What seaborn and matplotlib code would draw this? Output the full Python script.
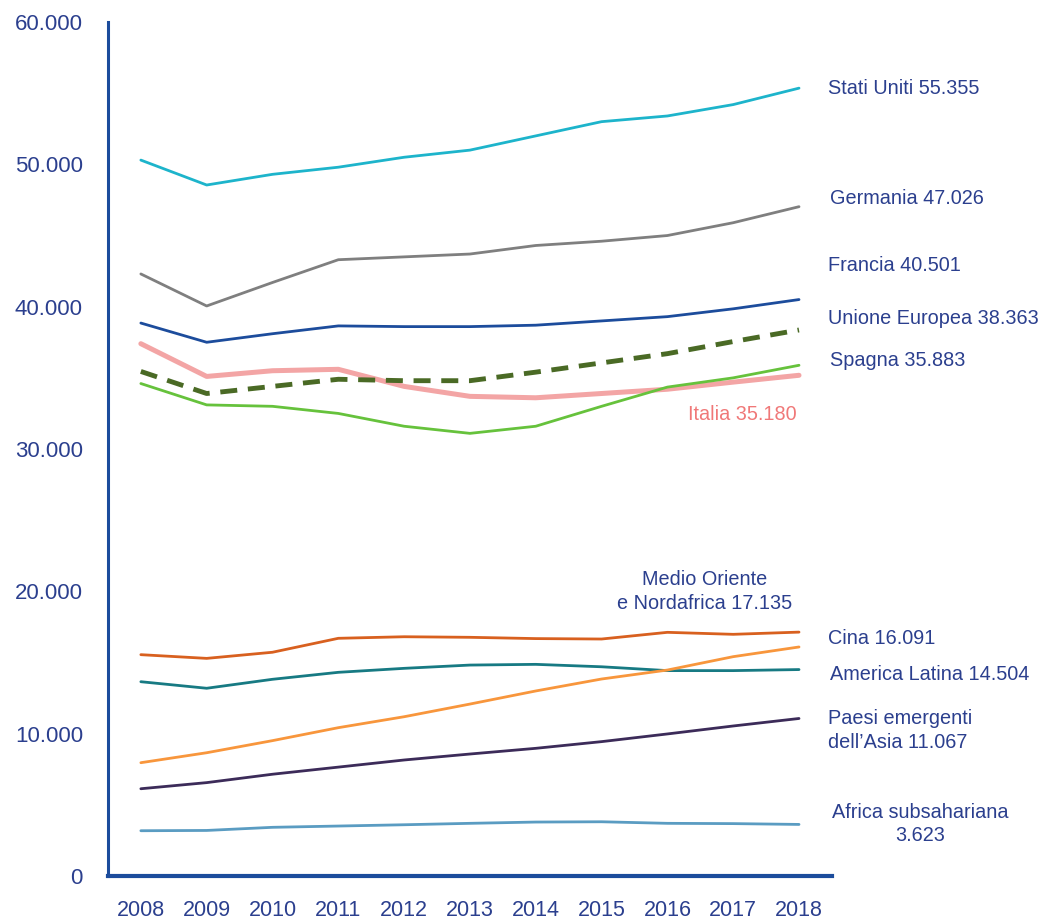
import pandas as pd
import seaborn as sns
import matplotlib.pyplot as plt
from matplotlib.ticker import FuncFormatter, MultipleLocator

years = [2008, 2009, 2010, 2011, 2012, 2013, 2014, 2015, 2016, 2017, 2018]

stati_uniti = [50300, 48550, 49300, 49800, 50500, 51000, 52000, 53000, 53400, 54200, 55355]
germania = [42300, 40050, 41700, 43300, 43500, 43700, 44300, 44600, 45000, 45900, 47026]
francia = [38850, 37500, 38100, 38650, 38600, 38600, 38700, 39000, 39300, 39850, 40501]
unione_europea = [35450, 33900, 34400, 34900, 34800, 34800, 35400, 36050, 36700, 37550, 38363]
italia = [37400, 35100, 35500, 35600, 34400, 33700, 33600, 33900, 34200, 34700, 35180]
spagna = [34600, 33100, 33000, 32500, 31600, 31100, 31600, 33000, 34350, 35000, 35883]
medio_oriente = [15550, 15290, 15720, 16700, 16810, 16770, 16680, 16650, 17120, 16980, 17135]
america_latina = [13650, 13190, 13820, 14310, 14590, 14820, 14870, 14700, 14430, 14430, 14504]
cina = [7960, 8660, 9510, 10420, 11190, 12080, 13000, 13840, 14470, 15410, 16091]
paesi_asia = [6130, 6560, 7150, 7650, 8150, 8570, 8970, 9440, 9980, 10540, 11067]
africa = [3180, 3200, 3420, 3510, 3600, 3700, 3790, 3810, 3700, 3680, 3623]

series = {
    "Stati Uniti": stati_uniti,
    "Germania": germania,
    "Francia": francia,
    "Unione Europea": unione_europea,
    "Italia": italia,
    "Spagna": spagna,
    "Medio Oriente": medio_oriente,
    "America Latina": america_latina,
    "Cina": cina,
    "Paesi emergenti": paesi_asia,
    "Africa": africa,
}

# colour, width, dashes
styles = {
    "Stati Uniti": ("#1DB4CB", 2.0, None),
    "Germania": ("#7F7F7F", 2.0, None),
    "Francia": ("#1C4C9C", 2.0, None),
    "Unione Europea": ("#4A6A25", 3.5, (3.5, 2.2)),
    "Italia": ("#F3A5A5", 3.6, None),
    "Spagna": ("#66C23C", 2.0, None),
    "Medio Oriente": ("#D8601F", 2.0, None),
    "America Latina": ("#177A83", 2.0, None),
    "Cina": ("#F8963C", 2.0, None),
    "Paesi emergenti": ("#3C2B59", 2.0, None),
    "Africa": ("#5A9CC2", 2.0, None),
}

# label text, x, y (data units), ha, colour
labels = [
    ("Stati Uniti 55.355", 10.44, 55360, "left", "#2B3F8E"),
    ("Germania 47.026", 10.47, 47570, "left", "#2B3F8E"),
    ("Francia 40.501", 10.44, 42900, "left", "#2B3F8E"),
    ("Unione Europea 38.363", 10.44, 39200, "left", "#2B3F8E"),
    ("Spagna 35.883", 10.47, 36250, "left", "#2B3F8E"),
    ("Italia 35.180", 9.97, 32390, "right", "#F07878"),
    ("Medio Oriente\ne Nordafrica 17.135", 8.57, 19990, "center", "#2B3F8E"),
    ("Cina 16.091", 10.44, 16720, "left", "#2B3F8E"),
    ("America Latina 14.504", 10.47, 14190, "left", "#2B3F8E"),
    ("Paesi emergenti\ndell\u2019Asia 11.067", 10.44, 10220, "left", "#2B3F8E"),
    ("Africa subsahariana\n3.623", 11.84, 3650, "center", "#2B3F8E"),
]

sns.set_style("white")
plt.rcParams['font.family'] = ['Liberation Sans', 'DejaVu Sans']

rows = []
for name, vals in series.items():
    for i, v in enumerate(vals):
        rows.append({"serie": name, "pos": i, "valore": v})
df = pd.DataFrame(rows)

fig = plt.figure(figsize=(10.45, 9.22), dpi=100)
ax = fig.add_axes([0.1033, 0.0499, 0.6928, 0.9262])

for name in series:
    color, lw, dashes = styles[name]
    sub = df[df["serie"] == name]
    sns.lineplot(data=sub, x="pos", y="valore", color=color, linewidth=lw, ax=ax)
    l = ax.lines[-1]
    if dashes is not None:
        l.set_dashes(dashes)
    if name == "Unione Europea":
        l.set_zorder(3)

blue = "#1C4C9C"
ax.set_xlim(-0.5, 10.5)
ax.set_ylim(0, 60000)
ax.set_xticks(range(len(years)))
ax.set_xticklabels([str(y) for y in years])
ax.xaxis.set_minor_locator(MultipleLocator(1, offset=0.5))
ax.tick_params(axis="x", which="major", length=0, pad=17, labelsize=15.5, labelcolor="#2B3F8E")
ax.tick_params(axis="x", which="minor", length=7, width=2, color=blue, direction="out")
ax.yaxis.set_major_locator(MultipleLocator(10000))
ax.yaxis.set_major_formatter(FuncFormatter(lambda v, p: f"{int(v):,}".replace(",", ".")))
ax.tick_params(axis="y", length=6, width=2, color=blue, labelsize=16, labelcolor="#2B3F8E", pad=12)
ax.set_xlabel("")
ax.set_ylabel("")

for side in ["top", "right"]:
    ax.spines[side].set_visible(False)
ax.spines["left"].set_color(blue)
ax.spines["left"].set_linewidth(2.2)
ax.spines["bottom"].set_color(blue)
ax.spines["bottom"].set_linewidth(3)

for text, x, y, ha, c in labels:
    ax.text(x, y, text, ha=ha, va="center", color=c, fontsize=14.3,
            linespacing=1.3, clip_on=False)

fig.savefig("out.png", dpi=100)
